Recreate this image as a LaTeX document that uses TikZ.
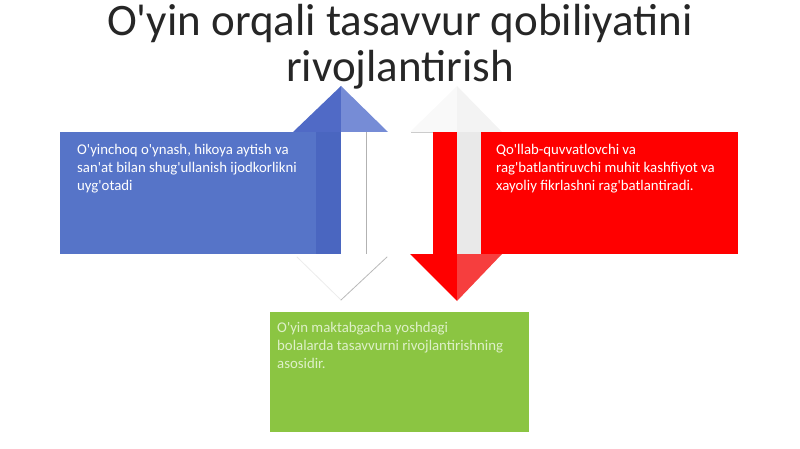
\documentclass[tikz,border=0pt]{standalone}
\usepackage{fontspec}
\setmainfont{Carlito}[Ligatures=TeXOff]
\usepackage{tikz}
\usetikzlibrary{positioning}
\definecolor{boxblue}{RGB}{86,116,200}
\definecolor{shaftblue}{RGB}{74,102,192}
\definecolor{headblue}{RGB}{80,106,198}
\definecolor{headlight}{RGB}{118,140,214}
\definecolor{boxred}{RGB}{255,0,0}
\definecolor{headred}{RGB}{246,62,62}
\definecolor{strip}{RGB}{233,233,233}
\definecolor{boxgreen}{RGB}{139,197,66}
\definecolor{greentext}{RGB}{222,240,200}
\tikzset{boxtext/.style = {anchor=north west, inner sep=0pt, align=left,
                           font=\fontsize{14.8}{18}\selectfont, text=white}}
\tikzset{ghost/.style = {line width=0.8pt, line cap=round}}

\begin{document}
\begin{tikzpicture}[x=1pt, y=-1pt]
      \useasboundingbox (0, 0) rectangle (800, 449);

      \node [font=\fontsize{45}{46}\selectfont, align=center, text=black!85] (title)
            at (400, 47) {O'yin orqali tasavvur qobiliyatini\\rivojlantirish};

      % blue box and its arrow
      \fill [boxblue] (60, 132) rectangle (316, 254);
      \fill [shaftblue] (316, 132) rectangle (341, 254);
      \fill [white] (341, 132) rectangle (366, 254);
      \draw [gray!60, line width=0.8pt] (366, 132) -- (366, 254);
      \fill [headblue] (293, 132) -- (341, 86) -- (341, 132) -- cycle;
      \fill [headlight] (341, 86) -- (388, 132) -- (341, 132) -- cycle;

      \fill [white] (296, 255) -- (341, 300) -- (388, 255) -- cycle;
      \draw [ghost, gray!15] (297, 257) -- (341, 300);
      \draw [ghost, gray!55] (341, 300) -- (387, 257);

      % red box and its arrow
      \fill [strip!25] (410, 132) -- (457, 86) -- (457, 132) -- cycle;
      \fill [strip!55] (457, 86) -- (502, 132) -- (457, 132) -- cycle;
      \draw [gray!40, line width=0.6pt] (411, 132) -- (433, 132);
      \fill [boxred] (433, 132) rectangle (457, 254);
      \fill [strip] (457, 132) rectangle (481, 254);
      \fill [boxred] (481, 132) rectangle (738, 254);
      \fill [boxred] (410, 254) -- (457, 301) -- (457, 254) -- cycle;
      \fill [headred] (457, 254) -- (502, 254) -- (457, 301) -- cycle;

      % green box
      \fill [boxgreen] (270, 312) rectangle (529, 432);

      \node [boxtext] (play) at (77, 144)
            {O'yinchoq o'ynash, hikoya aytish va\\san'at bilan shug'ullanish ijodkorlikni\\uyg'otadi};
      \node [boxtext] (support) at (496, 144)
            {Qo'llab-quvvatlovchi va\\rag'batlantiruvchi muhit kashfiyot va\\xayoliy fikrlashni rag'batlantiradi.};
      \node [boxtext, text=greentext] (basis) at (277, 322)
            {O'yin maktabgacha yoshdagi\\bolalarda tasavvurni rivojlantirishning\\asosidir.};
\end{tikzpicture}
\end{document}
